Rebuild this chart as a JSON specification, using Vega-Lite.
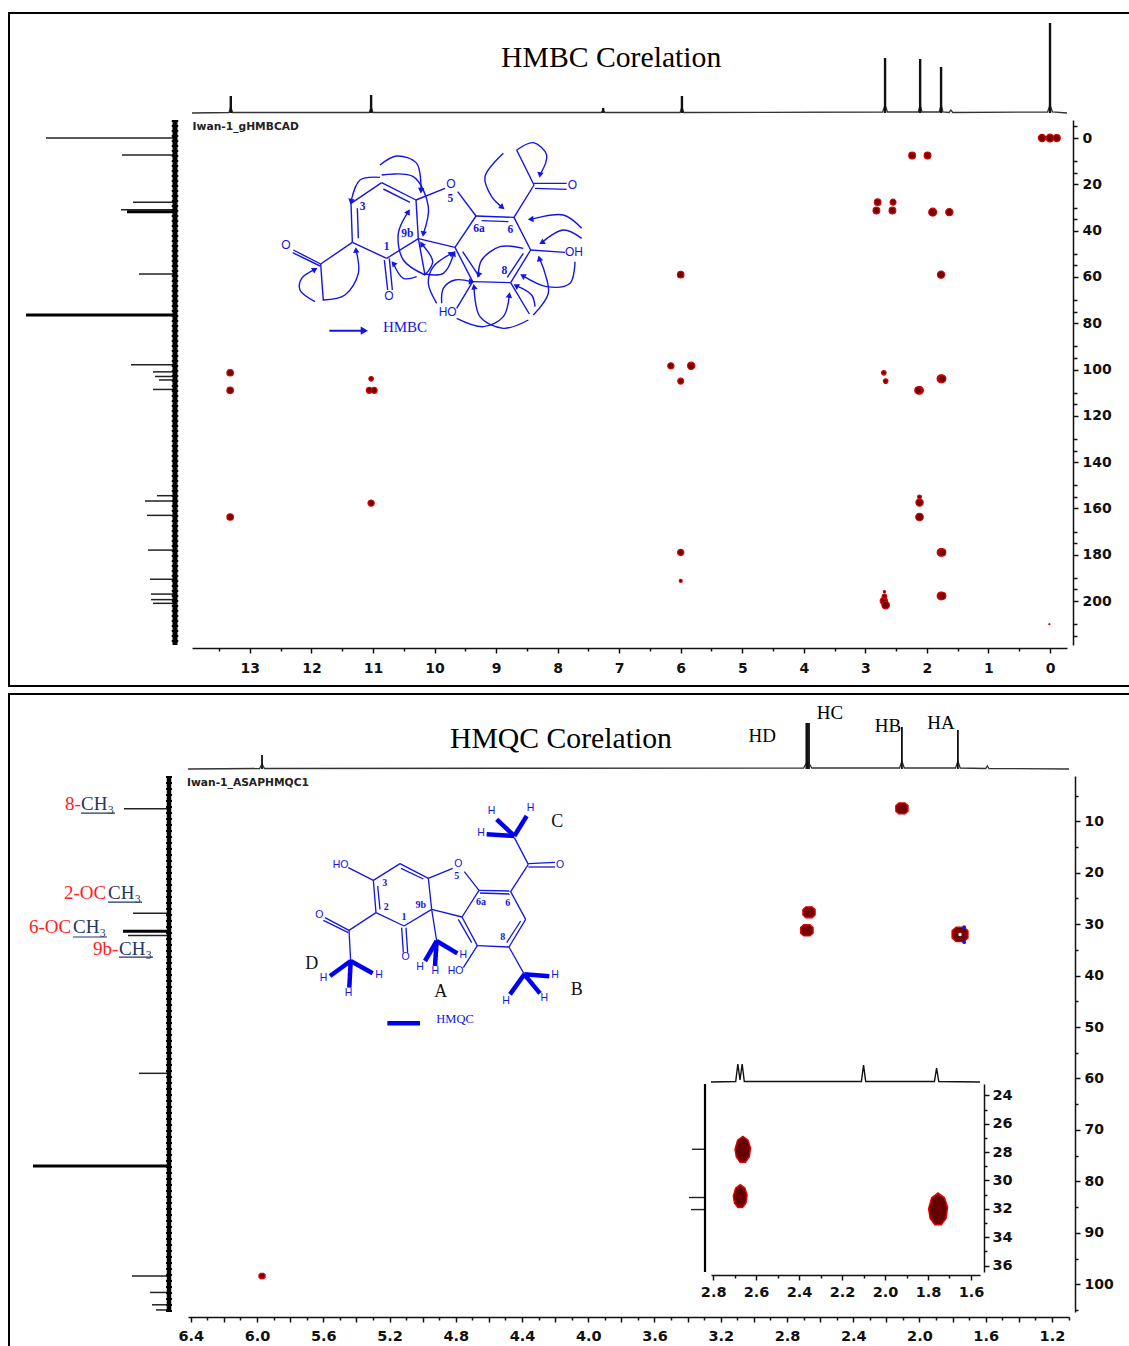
{"$schema":"https://vega.github.io/schema/vega-lite/v6.json","padding":{"left":8,"top":12,"right":0,"bottom":0},"background":"white","config":{"view":{"stroke":"black","strokeWidth":2}},"spacing":6,
"datasets":{
"s1":[{"h":0.13,"c":0,"v":30},{"h":0,"c":0,"v":34},{"h":-0.11,"c":0,"v":28},{"h":2.24,"c":7.5,"v":26},{"h":1.99,"c":7.5,"v":26},{"h":2.8,"c":27.7,"v":24},{"h":2.55,"c":27.7,"v":20},{"h":2.82,"c":31.3,"v":26},{"h":2.56,"c":31.3,"v":26},{"h":1.906,"c":32,"v":36},{"h":1.636,"c":32,"v":30},{"h":1.77,"c":59,"v":30},{"h":6,"c":59,"v":24},{"h":13.32,"c":101.4,"v":24},{"h":13.32,"c":109,"v":24},{"h":11.03,"c":104,"v":12},{"h":11.06,"c":109,"v":20},{"h":10.98,"c":109,"v":20},{"h":6.16,"c":98.4,"v":22},{"h":5.83,"c":98.4,"v":30},{"h":6,"c":105,"v":20},{"h":2.7,"c":101.4,"v":12},{"h":2.67,"c":105,"v":12},{"h":2.12,"c":109,"v":34},{"h":2.14,"c":109,"v":28},{"h":1.77,"c":104,"v":36},{"h":1.75,"c":104,"v":30},{"h":2.12,"c":157.4,"v":30},{"h":2.12,"c":155,"v":8},{"h":2.12,"c":163.7,"v":32},{"h":1.77,"c":179,"v":34},{"h":1.75,"c":179,"v":28},{"h":1.77,"c":197.8,"v":34},{"h":1.75,"c":197.8,"v":28},{"h":2.7,"c":200,"v":30},{"h":2.67,"c":201.8,"v":32},{"h":2.69,"c":198,"v":12},{"h":2.69,"c":196,"v":3},{"h":0.01,"c":210,"v":0.6},{"h":11.03,"c":157.7,"v":22},{"h":13.32,"c":163.7,"v":24},{"h":6,"c":179,"v":22},{"h":6,"c":191.3,"v":5}],
"t1":[{"h":13.94,"i":0},{"h":13.34,"i":0.5},{"h":13.31,"i":6},{"h":13.28,"i":0.5},{"h":11.06,"i":0.5},{"h":11.03,"i":6},{"h":11,"i":0.5},{"h":7.29,"i":0.5},{"h":7.26,"i":3},{"h":7.23,"i":0.5},{"h":6.01,"i":0.5},{"h":5.98,"i":6},{"h":5.95,"i":0.5},{"h":2.72,"i":1},{"h":2.68,"i":8},{"h":2.64,"i":1},{"h":2.14,"i":1},{"h":2.11,"i":8},{"h":2.08,"i":1},{"h":1.8,"i":1},{"h":1.77,"i":8},{"h":1.74,"i":1},{"h":1.64,"i":0.5},{"h":1.61,"i":3},{"h":1.58,"i":0.5},{"h":0.04,"i":1},{"h":0,"i":8},{"h":-0.04,"i":1},{"h":-0.276,"i":0}],
"p1":[{"h":13.31,"i":17,"z":0},{"h":11.03,"i":18,"z":0},{"h":7.26,"i":5,"z":0},{"h":5.98,"i":17,"z":0},{"h":2.68,"i":55,"z":0},{"h":2.11,"i":54,"z":0},{"h":1.77,"i":46,"z":0},{"h":0,"i":90,"z":0}],
"l1":[{"c":0,"i":129,"z":0},{"c":7.3,"i":53,"z":0},{"c":27.7,"i":42,"z":0},{"c":31,"i":54,"z":0},{"c":31.8,"i":48,"z":0},{"c":58.7,"i":36,"z":0},{"c":76.4,"i":149,"z":0},{"c":97.9,"i":44,"z":0},{"c":101,"i":22,"z":0},{"c":103,"i":20,"z":0},{"c":104.5,"i":16,"z":0},{"c":108.6,"i":22,"z":0},{"c":154.5,"i":18,"z":0},{"c":156.8,"i":30,"z":0},{"c":163,"i":28,"z":0},{"c":178,"i":27,"z":0},{"c":190.6,"i":25,"z":0},{"c":197,"i":24,"z":0},{"c":199.4,"i":24,"z":0},{"c":201,"i":22,"z":0}],
"b1":[{"x":243,"y":190,"x2":335,"y2":128},{"x":335,"y":128,"x2":438,"y2":180},{"x":340,"y":147,"x2":420,"y2":187},{"x":438,"y":180,"x2":445,"y2":296},{"x":445,"y":296,"x2":350,"y2":355},{"x":350,"y":355,"x2":247,"y2":307},{"x":243,"y":190,"x2":247,"y2":307},{"x":262,"y":205,"x2":265,"y2":295},{"x":343,"y":360,"x2":353,"y2":450},{"x":358,"y":355,"x2":367,"y2":450},{"x":247,"y":307,"x2":152,"y2":372},{"x":152,"y":372,"x2":70,"y2":330},{"x":150,"y":378,"x2":68,"y2":338},{"x":152,"y":372,"x2":160,"y2":482},{"x":438,"y":180,"x2":525,"y2":145},{"x":563,"y":155,"x2":618,"y2":228},{"x":618,"y":228,"x2":732,"y2":232},{"x":635,"y":242,"x2":715,"y2":245},{"x":732,"y":232,"x2":782,"y2":330},{"x":782,"y":330,"x2":722,"y2":428},{"x":760,"y":340,"x2":712,"y2":412},{"x":722,"y":428,"x2":608,"y2":425},{"x":608,"y":425,"x2":555,"y2":322},{"x":578,"y":335,"x2":628,"y2":410},{"x":555,"y":322,"x2":618,"y2":228},{"x":445,"y":296,"x2":555,"y2":322},{"x":445,"y":296,"x2":465,"y2":405},{"x":782,"y":330,"x2":885,"y2":337},{"x":608,"y":425,"x2":560,"y2":505},{"x":722,"y":428,"x2":778,"y2":522},{"x":732,"y":232,"x2":792,"y2":135},{"x":792,"y":130,"x2":890,"y2":130},{"x":795,"y":145,"x2":890,"y2":148},{"x":792,"y":135,"x2":740,"y2":30}],
"a1":[{"a":1,"o":0,"x":135,"y":485},{"a":1,"o":1,"x":90,"y":450},{"a":1,"o":2,"x":95,"y":415},{"a":1,"o":3,"x":135,"y":388},{"a":2,"o":0,"x":160,"y":480},{"a":2,"o":1,"x":225,"y":465},{"a":2,"o":2,"x":265,"y":400},{"a":2,"o":3,"x":258,"y":330},{"a":3,"o":0,"x":330,"y":112},{"a":3,"o":1,"x":270,"y":120},{"a":3,"o":2,"x":243,"y":185},{"a":4,"o":0,"x":330,"y":75},{"a":4,"o":1,"x":380,"y":48},{"a":4,"o":2,"x":440,"y":70},{"a":4,"o":3,"x":453,"y":152},{"a":5,"o":0,"x":335,"y":105},{"a":5,"o":1,"x":430,"y":110},{"a":5,"o":2,"x":475,"y":200},{"a":5,"o":3,"x":460,"y":282},{"a":6,"o":0,"x":465,"y":405},{"a":6,"o":1,"x":400,"y":360},{"a":6,"o":2,"x":385,"y":280},{"a":6,"o":3,"x":415,"y":215},{"a":7,"o":0,"x":440,"y":410},{"a":7,"o":1,"x":400,"y":415},{"a":7,"o":2,"x":370,"y":370},{"a":8,"o":0,"x":465,"y":405},{"a":8,"o":1,"x":488,"y":365},{"a":8,"o":2,"x":455,"y":312},{"a":9,"o":0,"x":465,"y":402},{"a":9,"o":1,"x":520,"y":400},{"a":9,"o":2,"x":552,"y":340},{"a":10,"o":0,"x":500,"y":490},{"a":10,"o":1,"x":475,"y":430},{"a":10,"o":2,"x":490,"y":380},{"a":10,"o":3,"x":545,"y":340},{"a":11,"o":0,"x":515,"y":490},{"a":11,"o":1,"x":520,"y":445},{"a":11,"o":2,"x":555,"y":420},{"a":11,"o":3,"x":605,"y":425},{"a":12,"o":0,"x":560,"y":535},{"a":12,"o":1,"x":640,"y":560},{"a":12,"o":2,"x":700,"y":530},{"a":12,"o":3,"x":718,"y":465},{"a":13,"o":0,"x":775,"y":540},{"a":13,"o":1,"x":700,"y":565},{"a":13,"o":2,"x":630,"y":530},{"a":13,"o":3,"x":612,"y":440},{"a":14,"o":0,"x":760,"y":325},{"a":14,"o":1,"x":690,"y":320},{"a":14,"o":2,"x":635,"y":360},{"a":14,"o":3,"x":625,"y":405},{"a":15,"o":0,"x":790,"y":525},{"a":15,"o":1,"x":835,"y":460},{"a":15,"o":2,"x":825,"y":400},{"a":15,"o":3,"x":808,"y":355},{"a":16,"o":0,"x":915,"y":365},{"a":16,"o":1,"x":900,"y":430},{"a":16,"o":2,"x":830,"y":440},{"a":16,"o":3,"x":758,"y":407},{"a":17,"o":0,"x":795,"y":500},{"a":17,"o":1,"x":785,"y":465},{"a":17,"o":2,"x":738,"y":437},{"a":18,"o":0,"x":935,"y":295},{"a":18,"o":1,"x":880,"y":270},{"a":18,"o":2,"x":815,"y":308},{"a":19,"o":0,"x":935,"y":265},{"a":19,"o":1,"x":880,"y":225},{"a":19,"o":2,"x":782,"y":238},{"a":20,"o":0,"x":700,"y":40},{"a":20,"o":1,"x":645,"y":110},{"a":20,"o":2,"x":665,"y":170},{"a":20,"o":3,"x":697,"y":202},{"a":21,"o":0,"x":740,"y":30},{"a":21,"o":1,"x":790,"y":8},{"a":21,"o":2,"x":830,"y":45},{"a":21,"o":3,"x":810,"y":105}],
"h1":[{"x":135,"y":388,"d":60},{"x":258,"y":330,"d":355},{"x":243,"y":185,"d":190},{"x":453,"y":152,"d":185},{"x":460,"y":282,"d":190},{"x":415,"y":215,"d":30},{"x":370,"y":370,"d":320},{"x":455,"y":312,"d":330},{"x":552,"y":340,"d":25},{"x":545,"y":340,"d":55},{"x":605,"y":425,"d":95},{"x":718,"y":465,"d":10},{"x":612,"y":440,"d":350},{"x":625,"y":405,"d":200},{"x":808,"y":355,"d":345},{"x":758,"y":407,"d":300},{"x":738,"y":437,"d":300},{"x":815,"y":308,"d":240},{"x":782,"y":238,"d":265},{"x":697,"y":202,"d":130},{"x":810,"y":105,"d":190}],
"b2":[{"x":280,"y":268,"x2":360,"y2":218},{"x":360,"y":218,"x2":445,"y2":262},{"x":363,"y":232,"x2":430,"y2":264},{"x":445,"y":262,"x2":455,"y2":355},{"x":455,"y":355,"x2":372,"y2":405},{"x":372,"y":405,"x2":288,"y2":365},{"x":288,"y":365,"x2":280,"y2":268},{"x":300,"y":355,"x2":293,"y2":285},{"x":205,"y":230,"x2":280,"y2":268},{"x":288,"y":365,"x2":207,"y2":418},{"x":207,"y":418,"x2":135,"y2":380},{"x":205,"y":425,"x2":130,"y2":388},{"x":207,"y":418,"x2":212,"y2":510},{"x":365,"y":410,"x2":370,"y2":485},{"x":378,"y":410,"x2":383,"y2":485},{"x":445,"y":262,"x2":518,"y2":232},{"x":553,"y":242,"x2":597,"y2":298},{"x":597,"y":298,"x2":692,"y2":300},{"x":600,"y":306,"x2":690,"y2":309},{"x":692,"y":302,"x2":737,"y2":385},{"x":737,"y":385,"x2":687,"y2":468},{"x":722,"y":390,"x2":680,"y2":455},{"x":687,"y":468,"x2":592,"y2":464},{"x":592,"y":464,"x2":546,"y2":378},{"x":575,"y":455,"x2":535,"y2":385},{"x":546,"y":378,"x2":597,"y2":298},{"x":455,"y":355,"x2":546,"y2":378},{"x":455,"y":355,"x2":470,"y2":450},{"x":592,"y":464,"x2":550,"y2":530},{"x":687,"y":468,"x2":733,"y2":550},{"x":692,"y":302,"x2":745,"y2":220},{"x":745,"y":218,"x2":825,"y2":214},{"x":745,"y":228,"x2":825,"y2":228},{"x":745,"y":220,"x2":703,"y2":140}],
"k2":[{"x":703,"y":135,"x2":620,"y2":130},{"x":703,"y":135,"x2":650,"y2":85},{"x":703,"y":135,"x2":740,"y2":75},{"x":470,"y":450,"x2":435,"y2":510},{"x":470,"y":450,"x2":465,"y2":525},{"x":470,"y":450,"x2":532,"y2":487},{"x":212,"y":510,"x2":150,"y2":555},{"x":212,"y":510,"x2":278,"y2":547},{"x":212,"y":510,"x2":208,"y2":590},{"x":733,"y":550,"x2":808,"y2":556},{"x":733,"y":550,"x2":690,"y2":610},{"x":733,"y":550,"x2":780,"y2":607},{"x":322,"y":697,"x2":420,"y2":697}],
"t2":[{"h":6.417,"i":0},{"h":5.985,"i":0.5},{"h":5.97,"i":5},{"h":5.955,"i":0.5},{"h":2.70,"i":1},{"h":2.675,"i":8},{"h":2.65,"i":1},{"h":2.12,"i":1},{"h":2.106,"i":8},{"h":2.092,"i":1},{"h":1.782,"i":1},{"h":1.768,"i":8},{"h":1.754,"i":1},{"h":1.6,"i":0.5},{"h":1.59,"i":3},{"h":1.58,"i":0.5},{"h":1.097,"i":0}],
"p2":[{"h":5.97,"i":14,"z":0},{"h":2.683,"i":46,"z":0},{"h":2.675,"i":46,"z":0},{"h":2.667,"i":46,"z":0},{"h":2.106,"i":42,"z":0},{"h":1.768,"i":39,"z":0}],
"l2":[{"c":7.56,"i":45,"z":0},{"c":27.9,"i":36,"z":0},{"c":31.4,"i":46,"z":0},{"c":32.2,"i":41,"z":0},{"c":59,"i":30,"z":0},{"c":77,"i":136,"z":0},{"c":98.4,"i":37,"z":0},{"c":101.6,"i":19,"z":0},{"c":104,"i":17,"z":0},{"c":105,"i":13,"z":0}],
"t3":[{"h":2.81,"i":0},{"h":2.695,"i":0.5},{"h":2.685,"i":18},{"h":2.675,"i":2},{"h":2.665,"i":18},{"h":2.655,"i":0.5},{"h":2.11,"i":0.5},{"h":2.1,"i":17},{"h":2.09,"i":0.5},{"h":1.77,"i":0.5},{"h":1.76,"i":14},{"h":1.75,"i":0.5},{"h":1.558,"i":0}],
"l3":[{"c":27.8,"i":13,"z":0},{"c":31.2,"i":16,"z":0},{"c":32.05,"i":14,"z":0}]
},
"vconcat":[
{"width":1122,"height":673,"resolve":{"scale":{"x":"independent","y":"independent","size":"independent","angle":"independent"},"axis":{"x":"independent","y":"independent"}},
"layer":[
{"data":{"name":"s1"},"mark":{"type":"point","filled":true,"opacity":1,"color":"#6e0000","stroke":"#d80000","strokeWidth":1.2},"encoding":{"x":{"field":"h","type":"quantitative","scale":{"domain":[13.94,-0.276],"range":[183,1058],"nice":false,"zero":false},"axis":{"orient":"bottom","offset":-38,"values":[0,1,2,3,4,5,6,7,8,9,10,11,12,13],"tickSize":5,"tickWidth":1.5,"tickColor":"#111","domainColor":"#111","domainWidth":1.5,"grid":false,"title":null,"format":"d","labelFont":"DejaVu Sans","labelFontWeight":"bold","labelFontSize":14,"labelColor":"#111","labelPadding":8,"labelOverlap":false,"labelFlush":false}},"y":{"field":"c","type":"quantitative","scale":{"domain":[-7.8,219],"range":[107,632],"nice":false,"zero":false},"axis":{"orient":"right","offset":-58,"values":[0,20,40,60,80,100,120,140,160,180,200],"tickSize":5,"tickWidth":1.5,"tickColor":"#111","domainColor":"#111","domainWidth":1.5,"grid":false,"title":null,"format":"d","labelFont":"DejaVu Sans","labelFontWeight":"bold","labelFontSize":14,"labelColor":"#111","labelPadding":4,"labelOverlap":false,"labelFlush":false}},"size":{"field":"v","type":"quantitative","legend":null,"scale":{"domain":[0,40],"range":[0,70]}}}},
{"data":{"name":"t1"},"mark":{"type":"line","color":"#333","strokeWidth":1.3},"encoding":{"x":{"field":"h","type":"quantitative","scale":{"domain":[13.94,-0.276],"range":[183,1058],"nice":false,"zero":false},"axis":{"orient":"bottom","offset":-38,"values":[0.5,1.5,2.5,3.5,4.5,5.5,6.5,7.5,8.5,9.5,10.5,11.5,12.5,13.5],"tickSize":3,"tickWidth":1.5,"tickColor":"#111","domain":false,"labels":false,"grid":false,"title":null}},"y":{"field":"i","type":"quantitative","scale":{"domain":[0,100],"range":[100,0],"nice":false,"zero":false},"axis":null}}},
{"data":{"name":"p1"},"mark":{"type":"rule","color":"#111","strokeWidth":2.4},"encoding":{"x":{"field":"h","type":"quantitative","scale":{"domain":[13.94,-0.276],"range":[183,1058],"nice":false,"zero":false},"axis":null},"y":{"field":"i","type":"quantitative","scale":{"domain":[0,100],"range":[100,0],"nice":false,"zero":false},"axis":null},"y2":{"field":"z"}}},
{"data":{"name":"l1"},"mark":{"type":"rule","color":"#222","strokeWidth":1.5},"encoding":{"y":{"field":"c","type":"quantitative","scale":{"domain":[-7.8,219],"range":[107,632],"nice":false,"zero":false},"axis":{"orient":"right","offset":-58,"values":[-5,10,15,30,35,50,55,70,75,90,95,110,115,130,135,150,155,170,175,190,195,210,215],"tickSize":4,"tickWidth":1.5,"tickColor":"#111","domain":false,"labels":false,"grid":false,"title":null}},"x":{"field":"i","type":"quantitative","scale":{"domain":[0,160],"range":[166,6],"nice":false,"zero":false},"axis":null},"x2":{"field":"z"}}},
{"data":{"values":[{"c":76.4,"i":149,"z":0},{"c":31.8,"i":48,"z":0}]},"mark":{"type":"rule","color":"#000","strokeWidth":3},"encoding":{"y":{"field":"c","type":"quantitative","scale":{"domain":[-7.8,219],"range":[107,632],"nice":false,"zero":false},"axis":null},"x":{"field":"i","type":"quantitative","scale":{"domain":[0,160],"range":[166,6],"nice":false,"zero":false},"axis":null},"x2":{"field":"z"}}},
{"data":{"values":[{"c":-7.8,"i":0},{"c":219,"i":0}]},"mark":{"type":"line","color":"#000","strokeWidth":5},"encoding":{"y":{"field":"c","type":"quantitative","scale":{"domain":[-7.8,219],"range":[107,632],"nice":false,"zero":false},"axis":null},"x":{"field":"i","type":"quantitative","scale":{"domain":[0,160],"range":[166,6],"nice":false,"zero":false},"axis":null}}},
{"data":{"values":[{"c":-7.8,"i":0},{"c":219,"i":0}]},"mark":{"type":"line","color":"#000","strokeWidth":6.5,"strokeDash":[2,3]},"encoding":{"y":{"field":"c","type":"quantitative","scale":{"domain":[-7.8,219],"range":[107,632],"nice":false,"zero":false},"axis":null},"x":{"field":"i","type":"quantitative","scale":{"domain":[0,160],"range":[166,6],"nice":false,"zero":false},"axis":null}}},
{"data":{"values":[{"h":13.93,"c":-4.7,"t":"Iwan-1_gHMBCAD"}]},"mark":{"type":"text","align":"left","baseline":"middle","font":"DejaVu Sans","fontWeight":"bold","fontSize":10.7,"color":"#222"},"encoding":{"x":{"field":"h","type":"quantitative","scale":{"domain":[13.94,-0.276],"range":[183,1058],"nice":false,"zero":false},"axis":null},"y":{"field":"c","type":"quantitative","scale":{"domain":[-7.8,219],"range":[107,632],"nice":false,"zero":false},"axis":null},"text":{"field":"t"}}},
{"data":{"values":[{"h":7.13,"i":55,"t":"HMBC Corelation"}]},"mark":{"type":"text","align":"center","baseline":"middle","font":"Liberation Serif","fontSize":29.7,"color":"#000"},"encoding":{"x":{"field":"h","type":"quantitative","scale":{"domain":[13.94,-0.276],"range":[183,1058],"nice":false,"zero":false},"axis":null},"y":{"field":"i","type":"quantitative","scale":{"domain":[0,100],"range":[100,0],"nice":false,"zero":false},"axis":null},"text":{"field":"t"}}},
{"data":{"name":"b1"},"mark":{"type":"rule","color":"#1414e6","strokeWidth":1.4},"encoding":{"x":{"field":"x","type":"quantitative","scale":{"domain":[0,990],"range":[261,591],"nice":false,"zero":false},"axis":null},"y":{"field":"y","type":"quantitative","scale":{"domain":[0,630],"range":[127,337],"nice":false,"zero":false},"axis":null},"x2":{"field":"x2"},"y2":{"field":"y2"}}},
{"data":{"values":[{"x":178,"y":572,"x2":285,"y2":572}]},"mark":{"type":"rule","color":"#1414e6","strokeWidth":2},"encoding":{"x":{"field":"x","type":"quantitative","scale":{"domain":[0,990],"range":[261,591],"nice":false,"zero":false},"axis":null},"y":{"field":"y","type":"quantitative","scale":{"domain":[0,630],"range":[127,337],"nice":false,"zero":false},"axis":null},"x2":{"field":"x2"},"y2":{"field":"y2"}}},
{"data":{"values":[{"x":283,"y":572,"d":90}]},"mark":{"type":"point","shape":"triangle-up","filled":true,"opacity":1,"color":"#1414e6","size":70},"encoding":{"x":{"field":"x","type":"quantitative","scale":{"domain":[0,990],"range":[261,591],"nice":false,"zero":false},"axis":null},"y":{"field":"y","type":"quantitative","scale":{"domain":[0,630],"range":[127,337],"nice":false,"zero":false},"axis":null},"angle":{"field":"d","type":"quantitative","scale":{"domain":[0,360],"range":[0,360]},"legend":null}}},
{"data":{"name":"a1"},"mark":{"type":"line","color":"#1414e6","strokeWidth":1.4,"interpolate":"catmull-rom"},"encoding":{"x":{"field":"x","type":"quantitative","scale":{"domain":[0,990],"range":[261,591],"nice":false,"zero":false},"axis":null},"y":{"field":"y","type":"quantitative","scale":{"domain":[0,630],"range":[127,337],"nice":false,"zero":false},"axis":null},"detail":{"field":"a"},"order":{"field":"o"}}},
{"data":{"name":"h1"},"mark":{"type":"point","shape":"triangle-up","filled":true,"opacity":1,"color":"#1414e6","size":42},"encoding":{"x":{"field":"x","type":"quantitative","scale":{"domain":[0,990],"range":[261,591],"nice":false,"zero":false},"axis":null},"y":{"field":"y","type":"quantitative","scale":{"domain":[0,630],"range":[127,337],"nice":false,"zero":false},"axis":null},"angle":{"field":"d","type":"quantitative","scale":{"domain":[0,360],"range":[0,360]},"legend":null}}},
{"data":{"values":[{"x":543,"y":133,"t":"O"},{"x":48,"y":314,"t":"O"},{"x":357,"y":467,"t":"O"},{"x":907,"y":135,"t":"O"},{"x":912,"y":335,"t":"OH"},{"x":533,"y":515,"t":"HO"}]},"mark":{"type":"text","align":"center","baseline":"middle","font":"Liberation Sans","fontSize":12,"color":"#1414e6"},"encoding":{"x":{"field":"x","type":"quantitative","scale":{"domain":[0,990],"range":[261,591],"nice":false,"zero":false},"axis":null},"y":{"field":"y","type":"quantitative","scale":{"domain":[0,630],"range":[127,337],"nice":false,"zero":false},"axis":null},"text":{"field":"t"}}},
{"data":{"values":[{"x":278,"y":200,"t":"3"},{"x":412,"y":282,"t":"9b"},{"x":350,"y":322,"t":"1"},{"x":627,"y":268,"t":"6a"},{"x":721,"y":270,"t":"6"},{"x":703,"y":393,"t":"8"},{"x":541,"y":178,"t":"5"}]},"mark":{"type":"text","align":"center","baseline":"middle","font":"Liberation Serif","fontWeight":"bold","fontSize":11.5,"color":"#1414e6"},"encoding":{"x":{"field":"x","type":"quantitative","scale":{"domain":[0,990],"range":[261,591],"nice":false,"zero":false},"axis":null},"y":{"field":"y","type":"quantitative","scale":{"domain":[0,630],"range":[127,337],"nice":false,"zero":false},"axis":null},"text":{"field":"t"}}},
{"data":{"values":[{"x":405,"y":560,"t":"HMBC"}]},"mark":{"type":"text","align":"center","baseline":"middle","font":"Liberation Serif","fontSize":15,"color":"#1414e6"},"encoding":{"x":{"field":"x","type":"quantitative","scale":{"domain":[0,990],"range":[261,591],"nice":false,"zero":false},"axis":null},"y":{"field":"y","type":"quantitative","scale":{"domain":[0,630],"range":[127,337],"nice":false,"zero":false},"axis":null},"text":{"field":"t"}}}
]},
{"width":1122,"height":655,"resolve":{"scale":{"x":"independent","y":"independent","size":"independent","color":"independent"},"axis":{"x":"independent","y":"independent"}},
"layer":[
{"data":{"values":[{"h":2.106,"c":7.5,"v":50},{"h":2.667,"c":27.7,"v":50},{"h":2.68,"c":31.2,"v":52},{"h":1.755,"c":32,"v":85},{"h":5.97,"c":98.4,"v":12}]},"mark":{"type":"point","filled":true,"opacity":1,"color":"#760000","stroke":"#e00000","strokeWidth":1.3,"shape":"M-1,-0.45 L-0.5,-0.9 L0.5,-0.9 L1,-0.45 L1,0.45 L0.5,0.9 L-0.5,0.9 L-1,0.45 Z"},"encoding":{"x":{"field":"h","type":"quantitative","scale":{"domain":[6.417,1.097],"range":[179,1060],"nice":false,"zero":false},"axis":{"orient":"bottom","offset":-32,"values":[6.4,6.2,6,5.8,5.6,5.4,5.2,5,4.8,4.6,4.4,4.2,4,3.8,3.6,3.4,3.2,3,2.8,2.6,2.4,2.2,2,1.8,1.6,1.4,1.2],"labelExpr":"abs(round(datum.value*10)%4)==0 ? format(datum.value,'.1f') : ''","tickSize":5,"tickWidth":1.5,"tickColor":"#111","domainColor":"#111","domainWidth":1.5,"grid":false,"title":null,"labelFont":"DejaVu Sans","labelFontWeight":"bold","labelFontSize":14.5,"labelColor":"#111","labelPadding":7,"labelOverlap":false,"labelFlush":false}},"y":{"field":"c","type":"quantitative","scale":{"domain":[1.2,105.4],"range":[82,618],"nice":false,"zero":false},"axis":{"orient":"right","offset":-56,"values":[10,20,30,40,50,60,70,80,90,100],"tickSize":5,"tickWidth":1.5,"tickColor":"#111","domainColor":"#111","domainWidth":1.5,"grid":false,"title":null,"format":"d","labelFont":"DejaVu Sans","labelFontWeight":"bold","labelFontSize":14,"labelColor":"#111","labelPadding":4,"labelOverlap":false,"labelFlush":false}},"size":{"field":"v","type":"quantitative","legend":null,"scale":{"domain":[0,100],"range":[0,300]}}}},
{"data":{"values":[{"h":1.73,"c":30.6},{"h":1.73,"c":33.5}]},"mark":{"type":"point","filled":true,"opacity":1,"color":"#1414e6","size":14},"encoding":{"x":{"field":"h","type":"quantitative","scale":{"domain":[6.417,1.097],"range":[179,1060],"nice":false,"zero":false},"axis":null},"y":{"field":"c","type":"quantitative","scale":{"domain":[1.2,105.4],"range":[82,618],"nice":false,"zero":false},"axis":null}}},
{"data":{"values":[{"h":1.755,"c":32}]},"mark":{"type":"point","filled":true,"opacity":1,"color":"white","size":12},"encoding":{"x":{"field":"h","type":"quantitative","scale":{"domain":[6.417,1.097],"range":[179,1060],"nice":false,"zero":false},"axis":null},"y":{"field":"c","type":"quantitative","scale":{"domain":[1.2,105.4],"range":[82,618],"nice":false,"zero":false},"axis":null}}},
{"data":{"name":"t2"},"mark":{"type":"line","color":"#333","strokeWidth":1.3},"encoding":{"x":{"field":"h","type":"quantitative","scale":{"domain":[6.417,1.097],"range":[179,1060],"nice":false,"zero":false},"axis":{"orient":"bottom","offset":-32,"values":[6.3,6.1,5.9,5.7,5.5,5.3,5.1,4.9,4.7,4.5,4.3,4.1,3.9,3.7,3.5,3.3,3.1,2.9,2.7,2.5,2.3,2.1,1.9,1.7,1.5,1.3,1.1],"tickSize":3,"tickWidth":1.5,"tickColor":"#111","domain":false,"labels":false,"grid":false,"title":null}},"y":{"field":"i","type":"quantitative","scale":{"domain":[0,100],"range":[75,-25],"nice":false,"zero":false},"axis":null}}},
{"data":{"name":"p2"},"mark":{"type":"rule","color":"#111","strokeWidth":1.8},"encoding":{"x":{"field":"h","type":"quantitative","scale":{"domain":[6.417,1.097],"range":[179,1060],"nice":false,"zero":false},"axis":null},"y":{"field":"i","type":"quantitative","scale":{"domain":[0,100],"range":[75,-25],"nice":false,"zero":false},"axis":null},"y2":{"field":"z"}}},
{"data":{"name":"l2"},"mark":{"type":"rule","color":"#222","strokeWidth":1.5},"encoding":{"y":{"field":"c","type":"quantitative","scale":{"domain":[1.2,105.4],"range":[82,618],"nice":false,"zero":false},"axis":{"orient":"right","offset":-56,"values":[5,15,25,35,45,55,65,75,85,95,105],"tickSize":3,"tickWidth":1.5,"tickColor":"#111","domain":false,"labels":false,"grid":false,"title":null}},"x":{"field":"i","type":"quantitative","scale":{"domain":[0,160],"range":[160,0],"nice":false,"zero":false},"axis":null},"x2":{"field":"z"}}},
{"data":{"values":[{"c":77,"i":136,"z":0},{"c":31.4,"i":46,"z":0}]},"mark":{"type":"rule","color":"#000","strokeWidth":3},"encoding":{"y":{"field":"c","type":"quantitative","scale":{"domain":[1.2,105.4],"range":[82,618],"nice":false,"zero":false},"axis":null},"x":{"field":"i","type":"quantitative","scale":{"domain":[0,160],"range":[160,0],"nice":false,"zero":false},"axis":null},"x2":{"field":"z"}}},
{"data":{"values":[{"c":1.2,"i":0},{"c":105.4,"i":0}]},"mark":{"type":"line","color":"#000","strokeWidth":4.5},"encoding":{"y":{"field":"c","type":"quantitative","scale":{"domain":[1.2,105.4],"range":[82,618],"nice":false,"zero":false},"axis":null},"x":{"field":"i","type":"quantitative","scale":{"domain":[0,160],"range":[160,0],"nice":false,"zero":false},"axis":null}}},
{"data":{"values":[{"c":1.2,"i":0},{"c":105.4,"i":0}]},"mark":{"type":"line","color":"#000","strokeWidth":6,"strokeDash":[2,4]},"encoding":{"y":{"field":"c","type":"quantitative","scale":{"domain":[1.2,105.4],"range":[82,618],"nice":false,"zero":false},"axis":null},"x":{"field":"i","type":"quantitative","scale":{"domain":[0,160],"range":[160,0],"nice":false,"zero":false},"axis":null}}},
{"data":{"values":[{"h":6.423,"c":2.6,"t":"Iwan-1_ASAPHMQC1"}]},"mark":{"type":"text","align":"left","baseline":"middle","font":"DejaVu Sans","fontWeight":"bold","fontSize":10.7,"color":"#222"},"encoding":{"x":{"field":"h","type":"quantitative","scale":{"domain":[6.417,1.097],"range":[179,1060],"nice":false,"zero":false},"axis":null},"y":{"field":"c","type":"quantitative","scale":{"domain":[1.2,105.4],"range":[82,618],"nice":false,"zero":false},"axis":null},"text":{"field":"t"}}},
{"data":{"values":[{"h":4.165,"i":30,"t":"HMQC Corelation"}]},"mark":{"type":"text","align":"center","baseline":"middle","font":"Liberation Serif","fontSize":29.7,"color":"#000"},"encoding":{"x":{"field":"h","type":"quantitative","scale":{"domain":[6.417,1.097],"range":[179,1060],"nice":false,"zero":false},"axis":null},"y":{"field":"i","type":"quantitative","scale":{"domain":[0,100],"range":[75,-25],"nice":false,"zero":false},"axis":null},"text":{"field":"t"}}},
{"data":{"values":[{"h":2.95,"i":33,"t":"HD"},{"h":2.54,"i":56,"t":"HC"},{"h":2.19,"i":43,"t":"HB"},{"h":1.87,"i":46,"t":"HA"}]},"mark":{"type":"text","align":"center","baseline":"middle","font":"Liberation Serif","fontSize":19,"color":"#000"},"encoding":{"x":{"field":"h","type":"quantitative","scale":{"domain":[6.417,1.097],"range":[179,1060],"nice":false,"zero":false},"axis":null},"y":{"field":"i","type":"quantitative","scale":{"domain":[0,100],"range":[75,-25],"nice":false,"zero":false},"axis":null},"text":{"field":"t"}}},
{"data":{"values":[{"i":104,"c":6.7,"t":"8-","g":"a"},{"i":88,"c":6.7,"t":"CH₃","g":"b"},{"i":105,"c":23.9,"t":"2-OC","g":"a"},{"i":61,"c":23.9,"t":"CH₃","g":"b"},{"i":140,"c":30.6,"t":"6-OC","g":"a"},{"i":96,"c":30.6,"t":"CH₃","g":"b"},{"i":76,"c":34.8,"t":"9b-","g":"a"},{"i":50,"c":34.8,"t":"CH₃","g":"b"}]},"mark":{"type":"text","align":"left","baseline":"middle","font":"Liberation Serif","fontSize":19},"encoding":{"x":{"field":"i","type":"quantitative","scale":{"domain":[0,160],"range":[160,0],"nice":false,"zero":false},"axis":null},"y":{"field":"c","type":"quantitative","scale":{"domain":[1.2,105.4],"range":[82,618],"nice":false,"zero":false},"axis":null},"text":{"field":"t"},"color":{"field":"g","type":"nominal","legend":null,"scale":{"domain":["a","b"],"range":["#ff2020","#1f3864"]}}}},
{"data":{"values":[{"i":88,"i2":54,"c":8.4},{"i":61,"i2":27,"c":25.7},{"i":96,"i2":62,"c":32.5},{"i":50,"i2":16,"c":36.4}]},"mark":{"type":"rule","color":"#1f3864","strokeWidth":1.2},"encoding":{"x":{"field":"i","type":"quantitative","scale":{"domain":[0,160],"range":[160,0],"nice":false,"zero":false},"axis":null},"x2":{"field":"i2"},"y":{"field":"c","type":"quantitative","scale":{"domain":[1.2,105.4],"range":[82,618],"nice":false,"zero":false},"axis":null}}},
{"data":{"name":"b2"},"mark":{"type":"rule","color":"#1414e6","strokeWidth":1.3},"encoding":{"x":{"field":"x","type":"quantitative","scale":{"domain":[0,960],"range":[271,591],"nice":false,"zero":false},"axis":null},"y":{"field":"y","type":"quantitative","scale":{"domain":[0,720],"range":[97,337],"nice":false,"zero":false},"axis":null},"x2":{"field":"x2"},"y2":{"field":"y2"}}},
{"data":{"name":"k2"},"mark":{"type":"rule","color":"#0000f0","strokeWidth":4.5},"encoding":{"x":{"field":"x","type":"quantitative","scale":{"domain":[0,960],"range":[271,591],"nice":false,"zero":false},"axis":null},"y":{"field":"y","type":"quantitative","scale":{"domain":[0,720],"range":[97,337],"nice":false,"zero":false},"axis":null},"x2":{"field":"x2"},"y2":{"field":"y2"}}},
{"data":{"values":[{"x":182,"y":222,"t":"HO"},{"x":118,"y":373,"t":"O"},{"x":377,"y":498,"t":"O"},{"x":535,"y":220,"t":"O"},{"x":527,"y":540,"t":"HO"},{"x":840,"y":222,"t":"O"},{"x":603,"y":127,"t":"H"},{"x":635,"y":60,"t":"H"},{"x":752,"y":52,"t":"H"},{"x":420,"y":528,"t":"H"},{"x":466,"y":540,"t":"H"},{"x":550,"y":492,"t":"H"},{"x":131,"y":562,"t":"H"},{"x":297,"y":553,"t":"H"},{"x":206,"y":605,"t":"H"},{"x":825,"y":553,"t":"H"},{"x":678,"y":630,"t":"H"},{"x":793,"y":622,"t":"H"}]},"mark":{"type":"text","align":"center","baseline":"middle","font":"Liberation Sans","fontSize":10.5,"color":"#1414e6"},"encoding":{"x":{"field":"x","type":"quantitative","scale":{"domain":[0,960],"range":[271,591],"nice":false,"zero":false},"axis":null},"y":{"field":"y","type":"quantitative","scale":{"domain":[0,720],"range":[97,337],"nice":false,"zero":false},"axis":null},"text":{"field":"t"}}},
{"data":{"values":[{"x":314,"y":275,"t":"3"},{"x":319,"y":348,"t":"2"},{"x":422,"y":343,"t":"9b"},{"x":372,"y":378,"t":"1"},{"x":603,"y":332,"t":"6a"},{"x":683,"y":335,"t":"6"},{"x":668,"y":438,"t":"8"},{"x":530,"y":255,"t":"5"}]},"mark":{"type":"text","align":"center","baseline":"middle","font":"Liberation Serif","fontWeight":"bold","fontSize":10,"color":"#1414e6"},"encoding":{"x":{"field":"x","type":"quantitative","scale":{"domain":[0,960],"range":[271,591],"nice":false,"zero":false},"axis":null},"y":{"field":"y","type":"quantitative","scale":{"domain":[0,720],"range":[97,337],"nice":false,"zero":false},"axis":null},"text":{"field":"t"}}},
{"data":{"values":[{"x":525,"y":683,"t":"HMQC"}]},"mark":{"type":"text","align":"center","baseline":"middle","font":"Liberation Serif","fontSize":12.5,"color":"#1414e6"},"encoding":{"x":{"field":"x","type":"quantitative","scale":{"domain":[0,960],"range":[271,591],"nice":false,"zero":false},"axis":null},"y":{"field":"y","type":"quantitative","scale":{"domain":[0,720],"range":[97,337],"nice":false,"zero":false},"axis":null},"text":{"field":"t"}}},
{"data":{"values":[{"x":832,"y":92,"t":"C"},{"x":95,"y":518,"t":"D"},{"x":482,"y":602,"t":"A"},{"x":890,"y":598,"t":"B"}]},"mark":{"type":"text","align":"center","baseline":"middle","font":"Liberation Serif","fontSize":18,"color":"#111"},"encoding":{"x":{"field":"x","type":"quantitative","scale":{"domain":[0,960],"range":[271,591],"nice":false,"zero":false},"axis":null},"y":{"field":"y","type":"quantitative","scale":{"domain":[0,720],"range":[97,337],"nice":false,"zero":false},"axis":null},"text":{"field":"t"}}},
{"data":{"values":[{"h":2.662,"c":27.8,"v":28},{"h":2.674,"c":31.1,"v":22},{"h":1.753,"c":32,"v":42}]},"mark":{"type":"point","filled":true,"opacity":1,"color":"#660000","stroke":"#e00000","strokeWidth":1.5,"shape":"M0,-1 L0.4,-0.7 L0.6,-0.1 L0.5,0.6 L0.2,1 L-0.2,1 L-0.5,0.6 L-0.6,0 L-0.4,-0.7 Z"},"encoding":{"x":{"field":"h","type":"quantitative","scale":{"domain":[2.81,1.558],"range":[702,971],"nice":false,"zero":false},"axis":{"orient":"bottom","offset":-74,"values":[2.8,2.6,2.4,2.2,2,1.8,1.6],"format":".1f","tickSize":5,"tickWidth":1.5,"tickColor":"#111","domainColor":"#111","domainWidth":1.5,"grid":false,"title":null,"labelFont":"DejaVu Sans","labelFontWeight":"bold","labelFontSize":14.5,"labelColor":"#111","labelPadding":5,"labelOverlap":false,"labelFlush":false}},"y":{"field":"c","type":"quantitative","scale":{"domain":[23.2,36.45],"range":[390,578],"nice":false,"zero":false},"axis":{"orient":"right","offset":-147,"values":[24,26,28,30,32,34,36],"format":"d","tickSize":5,"tickWidth":1.5,"tickColor":"#111","domainColor":"#111","domainWidth":1.5,"grid":false,"title":null,"labelFont":"DejaVu Sans","labelFontWeight":"bold","labelFontSize":14.5,"labelColor":"#111","labelPadding":3,"labelOverlap":false,"labelFlush":false}},"size":{"field":"v","type":"quantitative","legend":null,"scale":{"domain":[0,42],"range":[0,1000]}}}},
{"data":{"name":"t3"},"mark":{"type":"line","color":"#111","strokeWidth":1.4},"encoding":{"x":{"field":"h","type":"quantitative","scale":{"domain":[2.81,1.558],"range":[702,971],"nice":false,"zero":false},"axis":{"orient":"bottom","offset":-74,"values":[2.7,2.5,2.3,2.1,1.9,1.7],"tickSize":3,"tickWidth":1.5,"tickColor":"#111","domain":false,"labels":false,"grid":false,"title":null}},"y":{"field":"i","type":"quantitative","scale":{"domain":[0,30],"range":[388,358],"nice":false,"zero":false},"axis":null}}},
{"data":{"name":"l3"},"mark":{"type":"rule","color":"#222","strokeWidth":1.4},"encoding":{"y":{"field":"c","type":"quantitative","scale":{"domain":[23.2,36.45],"range":[390,578],"nice":false,"zero":false},"axis":{"orient":"right","offset":-147,"values":[25,27,29,31,33,35],"tickSize":3,"tickWidth":1.5,"tickColor":"#111","domain":false,"labels":false,"grid":false,"title":null}},"x":{"field":"i","type":"quantitative","scale":{"domain":[0,30],"range":[696,666],"nice":false,"zero":false},"axis":null},"x2":{"field":"z"}}},
{"data":{"values":[{"c":23.2,"i":0},{"c":36.45,"i":0}]},"mark":{"type":"line","color":"#000","strokeWidth":2.2},"encoding":{"y":{"field":"c","type":"quantitative","scale":{"domain":[23.2,36.45],"range":[390,578],"nice":false,"zero":false},"axis":null},"x":{"field":"i","type":"quantitative","scale":{"domain":[0,30],"range":[696,666],"nice":false,"zero":false},"axis":null}}}
]}
]}
